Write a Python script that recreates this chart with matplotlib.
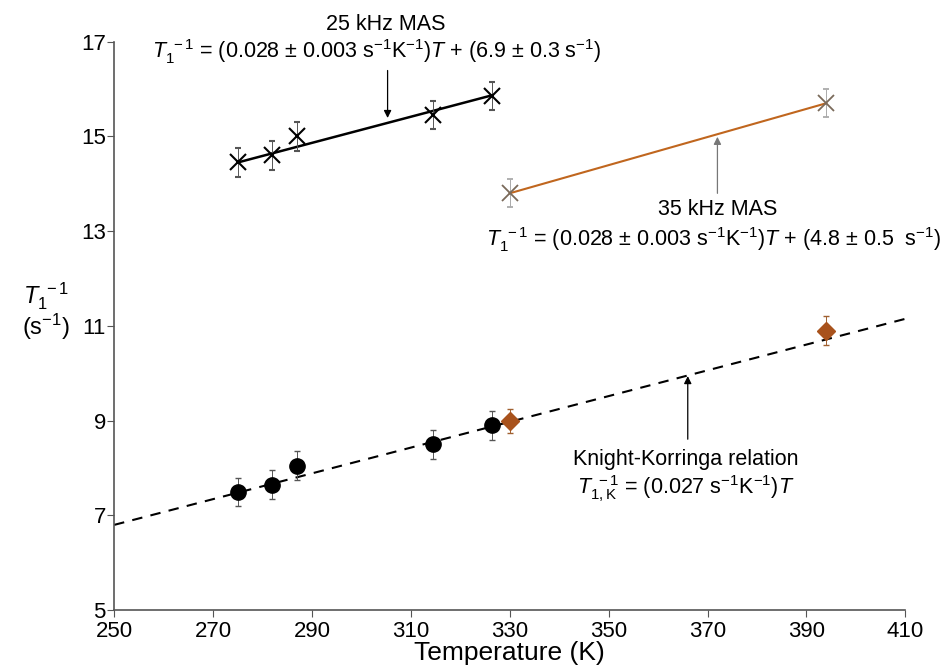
import matplotlib
matplotlib.use("Agg")
import matplotlib.pyplot as plt
from matplotlib import font_manager

# ---- data ----
t25 = [275, 282, 287, 314.5, 326.5]
r25 = [14.45, 14.6, 15.0, 15.45, 15.85]
err25 = [0.3, 0.3, 0.3, 0.3, 0.3]
fit25_x = [275, 326.5]
fit25_y = [14.45, 15.87]

t35 = [330, 394]
r35 = [13.8, 15.7]
err35 = [0.3, 0.3]
fit35_x = [330, 394]
fit35_y = [13.8, 15.7]

tk25 = [275, 282, 287, 314.5, 326.5]
rk25 = [7.5, 7.65, 8.05, 8.5, 8.9]
errk25 = [0.3, 0.3, 0.3, 0.3, 0.3]

tk35 = [330, 394]
rk35 = [9.0, 10.9]
errk35 = [0.25, 0.3]

kk_x = [250, 410]
kk_y = [6.8, 11.15]

xticks = [250, 270, 290, 310, 330, 350, 370, 390, 410]
yticks = [5, 7, 9, 11, 13, 15, 17]

avail = {f.name for f in font_manager.fontManager.ttflist}
tickfont = "Liberation Sans Narrow" if "Liberation Sans Narrow" in avail else "Liberation Sans"
plt.rcParams["font.family"] = ["Liberation Sans", "DejaVu Sans"]
plt.rcParams["mathtext.fontset"] = "custom"
plt.rcParams["mathtext.rm"] = "Liberation Sans"
plt.rcParams["mathtext.it"] = "Liberation Sans:italic"

fig = plt.figure(figsize=(9.51, 6.72), dpi=100)
ax = fig.add_axes([0.12, 0.092, 0.832, 0.846])

orange = "#c0661e"
brown = "#a8521c"
xgray = "#7a6a5a"

# fit lines
ax.plot(fit25_x, fit25_y, color="black", lw=1.8, zorder=2)
ax.plot(fit35_x, fit35_y, color=orange, lw=1.5, zorder=2)
ax.plot(kk_x, kk_y, color="black", lw=1.5, ls=(0, (5, 4)), zorder=2)

# markers
ax.errorbar(t25, r25, yerr=err25, fmt="x", color="black", ms=11, mew=1.5,
            ecolor="#555555", elinewidth=0.7, capsize=2.5, zorder=3)
ax.errorbar(t35, r35, yerr=err35, fmt="x", color=xgray, ms=11, mew=1.3,
            ecolor="#aaaaaa", elinewidth=0.7, capsize=2.5, zorder=3)
ax.errorbar(tk25, rk25, yerr=errk25, fmt="o", color="black", ms=11,
            ecolor="#555555", elinewidth=0.7, capsize=2.5, zorder=3)
ax.errorbar(tk35, rk35, yerr=errk35, fmt="D", color=brown, ms=9,
            ecolor="#a06030", elinewidth=0.7, capsize=2.5, zorder=3)

ax.set_xlim(250, 410)
ax.set_ylim(5, 17)
ax.set_xticks(xticks)
ax.set_yticks(yticks)
ax.set_xticklabels([str(v) for v in xticks], fontsize=16, family=tickfont)
ax.set_yticklabels([str(v) for v in yticks], fontsize=16, family=tickfont)
for s in ["top", "right"]:
    ax.spines[s].set_visible(False)
for s in ["left", "bottom"]:
    ax.spines[s].set_color("#555555")
    ax.spines[s].set_linewidth(1.2)
ax.tick_params(direction="out", length=5, color="#555555")
ax.tick_params(axis="x", pad=3)
ax.tick_params(axis="y", pad=1)

ax.set_xlabel("Temperature (K)", fontsize=19, family=tickfont, labelpad=-1)

# y label
fig.text(0.048, 0.56, r"$T_1^{\ -1}$", fontsize=17, ha="center", va="center")
fig.text(0.048, 0.513, r"(s$^{-1}$)", fontsize=17, ha="center", va="center")

fs = 15.5
# 25 kHz annotation
ax.text(305, 17.36, "25 kHz MAS", fontsize=fs, ha="center", va="center")
ax.text(303, 16.8, r"$T_1^{\ -1}$ = (0.028 ± 0.003 s$^{-1}$K$^{-1}$)$T$ + (6.9 ± 0.3 s$^{-1}$)",
        fontsize=fs, ha="center", va="center", clip_on=False)
ax.annotate("", xy=(305.3, 15.33), xytext=(305.3, 16.45),
            arrowprops=dict(arrowstyle="-|>", color="black", lw=0.9, mutation_scale=11),
            annotation_clip=False)

# 35 kHz annotation
ax.text(372, 13.45, "35 kHz MAS", fontsize=fs, ha="center", va="center")
ax.text(371.3, 12.83, r"$T_1^{\ -1}$ = (0.028 ± 0.003 s$^{-1}$K$^{-1}$)$T$ + (4.8 ± 0.5  s$^{-1}$)",
        fontsize=fs, ha="center", va="center")
ax.annotate("", xy=(372, 15.05), xytext=(372, 13.74),
            arrowprops=dict(arrowstyle="-|>", color="#777777", lw=0.9, mutation_scale=11))

# Knight-Korringa annotation
ax.text(365.6, 8.18, "Knight-Korringa relation", fontsize=fs, ha="center", va="center")
ax.text(365.6, 7.57, r"$T_{1,\mathrm{K}}^{\ -1}$ = (0.027 s$^{-1}$K$^{-1}$)$T$",
        fontsize=fs, ha="center", va="center")
ax.annotate("", xy=(366, 10.0), xytext=(366, 8.55),
            arrowprops=dict(arrowstyle="-|>", color="black", lw=0.9, mutation_scale=11))

fig.savefig("out.png", dpi=100)
